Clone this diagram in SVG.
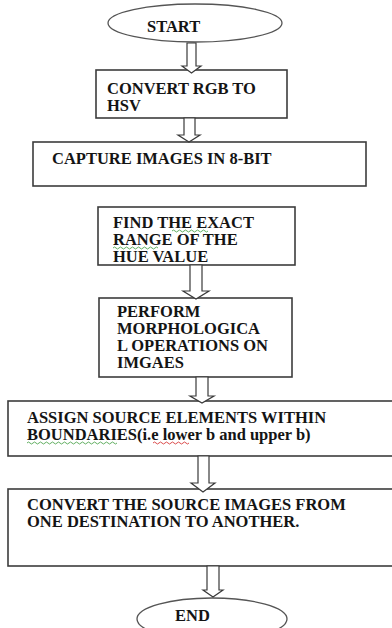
<svg xmlns="http://www.w3.org/2000/svg" width="392" height="628" viewBox="0 0 392 628">
<style>
.box{fill:#fff;stroke:#3c3c3c;stroke-width:1.6}
.term{fill:#fff;stroke:#555;stroke-width:1.3}
.arr{fill:#fff;stroke:#3a3a3a;stroke-width:1.2;stroke-linejoin:miter}
.t{font-family:'Liberation Serif','Times New Roman','DejaVu Serif',serif;font-weight:bold;font-size:16.5px;fill:#141414}
.sq{fill:none;stroke-width:0.8}
.g{stroke:#3a9a3a}
.r{stroke:#d02020}
</style>
<rect width="392" height="628" fill="#fff"/>
<g id="start">
<ellipse class="term" cx="195" cy="23" rx="87" ry="19"/>
<text class="t" x="147" y="32">START</text>
</g>
<g id="n1">
<rect class="box" x="96" y="70" width="191" height="48"/>
<text class="t" x="107" y="94">CONVERT RGB TO</text>
<text class="t" x="107" y="111">HSV</text>
</g>
<g id="n2">
<rect class="box" x="33" y="142" width="333" height="44"/>
<text class="t" x="52" y="164">CAPTURE IMAGES IN 8-BIT</text>
</g>
<g id="n3">
<rect class="box" x="98" y="207" width="197" height="58"/>
<text class="t" x="113" y="228">FIND THE EXACT</text>
<text class="t" x="113" y="245">RANGE OF THE</text>
<text class="t" x="113" y="262">HUE VALUE</text>
<path class="sq g" d="M172 231 q1.5 -2 3 0 t3 0 t3 0 t3 0 t3 0 t3 0 t3 0 t3 0 t3 0 t3 0 t3 0 t3 0"/>
<path class="sq g" d="M113 248 q1.5 -2 3 0 t3 0 t3 0 t3 0 t3 0 t3 0 t3 0 t3 0 t3 0 t3 0 t3 0 t3 0 t3 0 t3 0 t3 0"/>
</g>
<g id="n4">
<rect class="box" x="99" y="298" width="193" height="79"/>
<text class="t" x="117" y="317">PERFORM</text>
<text class="t" x="117" y="334">MORPHOLOGICA</text>
<text class="t" x="117" y="351">L OPERATIONS ON</text>
<text class="t" x="117" y="368">IMGAES</text>
</g>
<g id="n5">
<rect class="box" x="8" y="401" width="400" height="55"/>
<text class="t" x="27" y="423">ASSIGN SOURCE ELEMENTS WITHIN</text>
<text class="t" x="27" y="440">BOUNDARIES(i.e lower b and upper b)</text>
<path class="sq g" d="M27 443 q1.5 -2 3 0 t3 0 t3 0 t3 0 t3 0 t3 0 t3 0 t3 0 t3 0 t3 0 t3 0 t3 0 t3 0 t3 0 t3 0 t3 0 t3 0 t3 0 t3 0 t3 0 t3 0 t3 0 t3 0 t3 0 t3 0 t3 0 t3 0 t3 0 t3 0 t3 0"/>
<path class="sq r" d="M153 443 q1.5 -2 3 0 t3 0 t3 0 t3 0 t3 0 t3 0 t3 0 t3 0 t3 0 t3 0 t3 0 t3 0"/>
</g>
<g id="n6">
<rect class="box" x="8" y="489" width="400" height="77"/>
<text class="t" x="27" y="510">CONVERT THE SOURCE IMAGES FROM</text>
<text class="t" x="27" y="527">ONE DESTINATION TO ANOTHER.</text>
</g>
<g id="end">
<ellipse class="term" cx="212" cy="619" rx="75" ry="21"/>
<text class="t" x="175" y="621">END</text>
</g>
<g id="connectors">
<path class="arr" d="M187 43 V66 H182 L191.5 73 L201 66 H196 V43 Z"/>
<path class="arr" d="M184 118 V135 H178 L189 142 L200 135 H195 V118 Z"/>
<path class="arr" d="M190 265 V291 H183 L196 299 L209 291 H202 V265 Z"/>
<path class="arr" d="M196 377 V396 H190 L202 403 L214 396 H208 V377 Z"/>
<path class="arr" d="M198 456 V483 H191 L203 492 L215 483 H209 V456 Z"/>
<path class="arr" d="M207 566 V590 H203 L213 597 L223 590 H219 V566 Z"/>
</g>
</svg>
